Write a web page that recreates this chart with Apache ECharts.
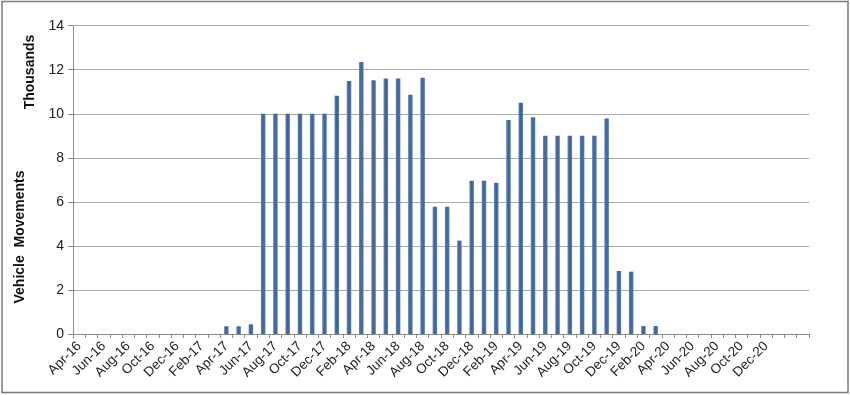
<!DOCTYPE html>
<html>
<head>
<meta charset="utf-8">
<script src="https://cdn.jsdelivr.net/npm/echarts@6/dist/echarts.min.js"></script>
<style>html,body{margin:0;padding:0;background:#fff}#c{width:850px;height:395px}</style>
</head>
<body>
<div id="c"></div>
<script>
const months = [
 'Apr-16','May-16','Jun-16','Jul-16','Aug-16','Sep-16','Oct-16','Nov-16','Dec-16','Jan-17','Feb-17','Mar-17',
 'Apr-17','May-17','Jun-17','Jul-17','Aug-17','Sep-17','Oct-17','Nov-17','Dec-17','Jan-18','Feb-18','Mar-18',
 'Apr-18','May-18','Jun-18','Jul-18','Aug-18','Sep-18','Oct-18','Nov-18','Dec-18','Jan-19','Feb-19','Mar-19',
 'Apr-19','May-19','Jun-19','Jul-19','Aug-19','Sep-19','Oct-19','Nov-19','Dec-19','Jan-20','Feb-20','Mar-20',
 'Apr-20','May-20','Jun-20','Jul-20','Aug-20','Sep-20','Oct-20','Nov-20','Dec-20','Jan-21','Feb-21','Mar-21'
];
const vehicleMovements = [
 0,0,0,0,0,0,0,0,0,0,0,0,
 0.35,0.35,0.44,10.0,10.0,10.0,10.0,10.0,10.0,10.82,11.49,12.35,
 11.52,11.6,11.6,10.87,11.64,5.78,5.78,4.24,6.96,6.96,6.87,9.72,
 10.5,9.84,9.0,9.0,9.0,9.0,9.0,9.79,2.86,2.83,0.36,0.36,
 0,0,0,0,0,0,0,0,0,0,0,0
];
const yTicks = [0,2,4,6,8,10,12,14];
const lastLabelIndex = months.indexOf('Dec-20');

const chart = echarts.init(document.getElementById('c'), null, {renderer:'canvas'});
const font = 'Liberation Sans, Arial, sans-serif';
chart.setOption({
  animation:false,
  backgroundColor:'#fff',
  grid:{left:73, right:41, top:25.7, bottom:61},
  xAxis:{
    type:'category',
    data:months,
    boundaryGap:true,
    axisLine:{lineStyle:{color:'#8c8c8c', width:1}},
    axisTick:{show:true, interval:0, length:4, lineStyle:{color:'#8c8c8c'}},
    axisLabel:{
      interval:function(i){return i%2===0 && i<=lastLabelIndex;},
      rotate:45, margin:10, fontSize:13.5, color:'#222', fontFamily:font
    },
    splitLine:{show:false}
  },
  yAxis:{
    type:'value',
    min:yTicks[0], max:yTicks[yTicks.length-1], interval:2,
    axisLine:{show:true, lineStyle:{color:'#8c8c8c', width:1}},
    axisTick:{show:true, length:5, lineStyle:{color:'#8c8c8c'}},
    axisLabel:{fontSize:14, color:'#222', fontFamily:font, margin:9},
    splitLine:{lineStyle:{color:'#ababab', width:1}}
  },
  series:[{
    type:'bar',
    data:vehicleMovements,
    barWidth:4.5,
    itemStyle:{
      color:new echarts.graphic.LinearGradient(0,0,1,0,[
        {offset:0,color:'#6289bd'},
        {offset:0.45,color:'#3b639a'},
        {offset:1,color:'#5079b0'}
      ])
    }
  }],
  graphic:[
    {type:'rect', shape:{x:2, y:1.5, width:846, height:391}, style:{fill:null, stroke:'#7a7a7a', lineWidth:1.5}, silent:true},
    {type:'text', x:30, y:72, rotation:Math.PI/2,
      style:{text:'Thousands', font:'bold 14px '+font, fill:'#111', align:'center', verticalAlign:'middle'}},
    {type:'text', x:20, y:237, rotation:Math.PI/2,
      style:{text:'Vehicle  Movements', font:'bold 14px '+font, fill:'#111', align:'center', verticalAlign:'middle'}}
  ]
});
</script>
</body>
</html>
